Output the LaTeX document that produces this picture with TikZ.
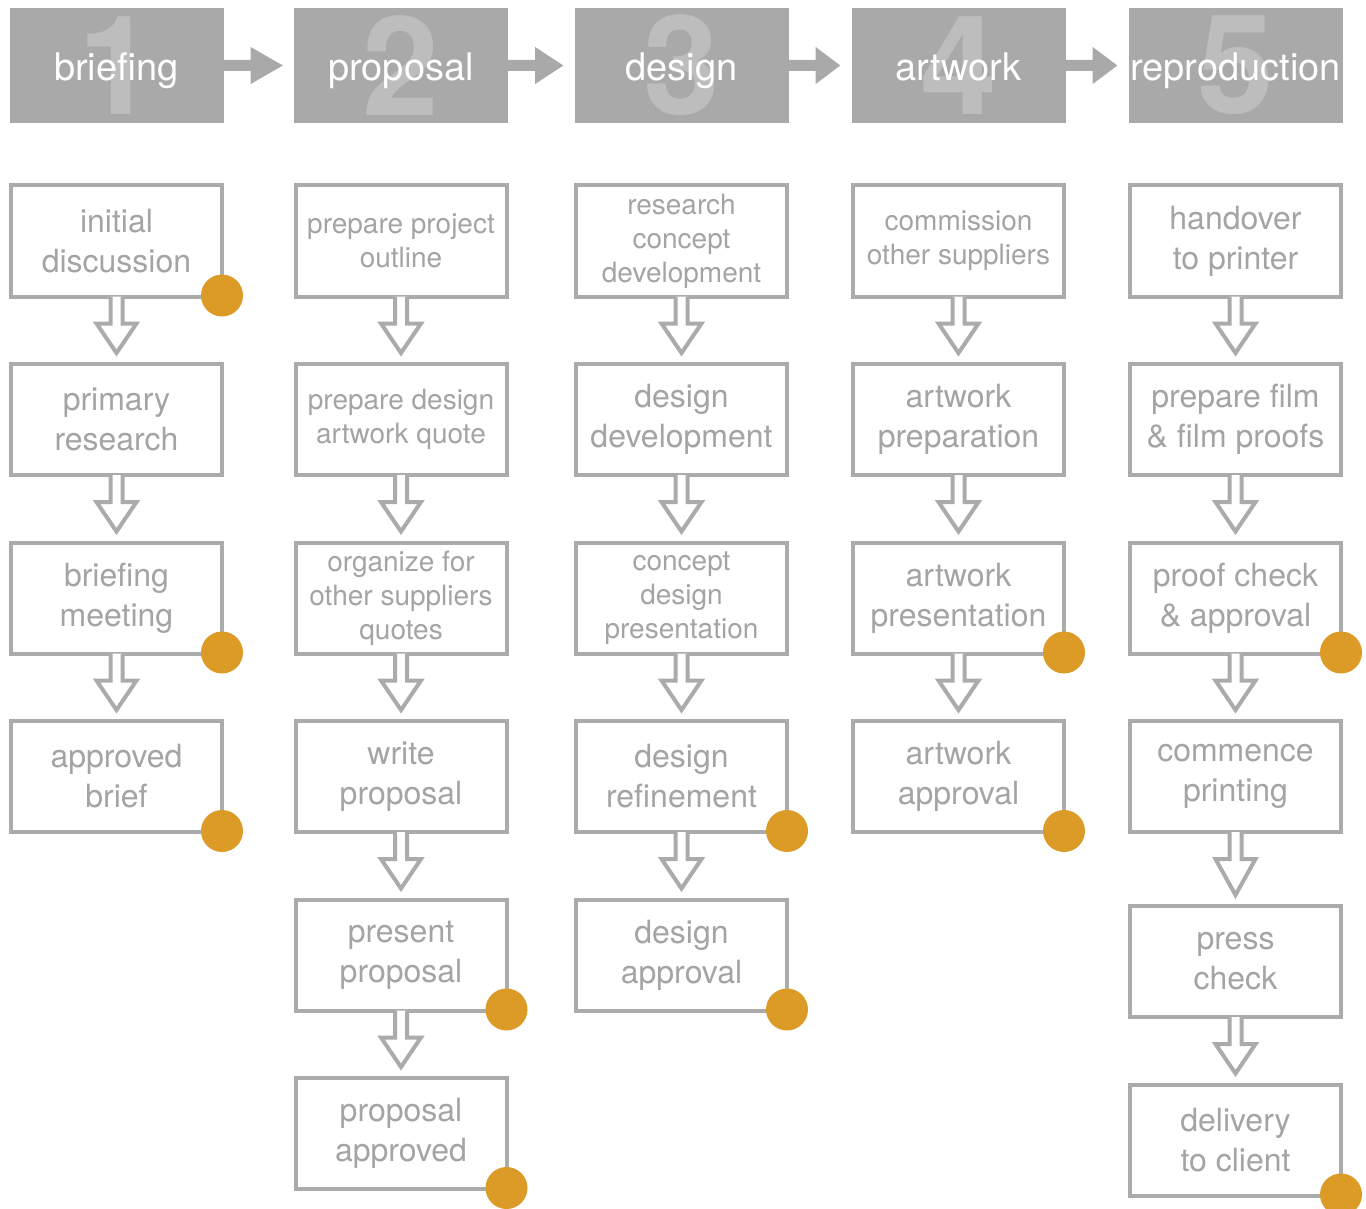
\documentclass[tikz,border=0pt]{standalone}
\usepackage{fontspec}
\setmainfont{TeX Gyre Heros}
\usepackage{tikz}
\usetikzlibrary{calc,positioning,arrows.meta}
\definecolor{stagegray}{HTML}{A9A9A9}
\definecolor{digitgray}{HTML}{BDBDBD}
\definecolor{boxgray}{HTML}{ABABAB}
\definecolor{textgray}{HTML}{A4A4A4}
\definecolor{dotorange}{HTML}{DC9A27}
\tikzstyle{stage}     = [rectangle, fill=stagegray, minimum width=214pt,
                         minimum height=115pt, inner sep=0pt]
\tikzstyle{digit}     = [text=digitgray, inner sep=0pt,
                         font=\fontsize{138}{138}\selectfont\bfseries]
\tikzstyle{stagetext} = [text=white, inner sep=0pt, anchor=base, yshift=-15pt,
                         font=\fontsize{38}{40}\selectfont]
\tikzstyle{stepbox}   = [rectangle, draw=boxgray, line width=4pt, fill=white,
                         minimum width=211pt, minimum height=111pt, inner sep=0pt,
                         align=center, text=textgray, font=\fontsize{32}{40}\selectfont]
\tikzstyle{small}     = [font=\fontsize{28}{34}\selectfont]
\tikzstyle{flow}      = [draw=boxgray, fill=white, line width=4pt, line join=miter]
\tikzstyle{dot}       = [fill=dotorange]
% hollow down arrow from one step to the next
\newcommand{\stepflow}[2]{
  \draw[flow] ($(#1.south)+(-6,-2)$) -- ++(0,27) -- ++(-14,0)
    -- ($(#2.north)+(0,-9)$) -- ($(#1.south)+(20,25)$) -- ++(-14,0) -- ++(0,-27);
}
% filled arrow between two stage headers
\newcommand{\stagearrow}[2]{
  \fill[stagegray] ($(#1.east)+(0,-5.5)$) -- ++(27,0) -- ++(0,-13)
    -- ($(#2.west)+(-11,0)$) -- ($(#1.east)+(27,18.5)$) -- ++(0,-13) -- ++(-27,0) -- cycle;
}
\newcommand{\signoff}[1]{
  \fill[dot] ($(#1.south east)+(-2,-3)$) circle (21pt);
}

\begin{document}
\begin{tikzpicture}[x=1pt, y=-1pt, node distance=178.5pt]
	\useasboundingbox (0,0) rectangle (1366,1209);

	% stage headers
	\node[stage] (brief) at (116.5,65.5) {};
	\node[digit] at (brief) {1};
	\node[stagetext] at (brief) {briefing};
	\node[stage] (prop) at (401,65.5) {};
	\node[digit] at (prop) {2};
	\node[stagetext] at (prop) {proposal};
	\node[stage] (des) at (681.5,65.5) {};
	\node[digit] at (des) {3};
	\node[stagetext] at (des) {design};
	\node[stage] (art) at (958.5,65.5) {};
	\node[digit] at (art) {4};
	\node[stagetext] at (art) {artwork};
	\node[stage] (repro) at (1235.5,65.5) {};
	\node[digit] at (repro) {5};
	\node[stagetext] at (repro) {reproduction};

	\stagearrow{brief}{prop}
	\stagearrow{prop}{des}
	\stagearrow{des}{art}
	\stagearrow{art}{repro}

	% briefing
	\node[stepbox, below of=brief, node distance=175.5pt] (brief1) {initial\\discussion};
	\node[stepbox, below of=brief1] (brief2) {primary\\research};
	\node[stepbox, below of=brief2] (brief3) {briefing\\meeting};
	\node[stepbox, below of=brief3] (brief4) {approved\\brief};

	% proposal
	\node[stepbox, small, below of=prop, node distance=175.5pt] (prop1) {prepare project\\outline};
	\node[stepbox, small, below of=prop1] (prop2) {prepare design\\artwork quote};
	\node[stepbox, small, below of=prop2] (prop3) {organize for\\other suppliers\\quotes};
	\node[stepbox, below of=prop3] (prop4) {write\\proposal};
	\node[stepbox, below of=prop4] (prop5) {present\\proposal};
	\node[stepbox, below of=prop5] (prop6) {proposal\\approved};

	% design
	\node[stepbox, small, below of=des, node distance=175.5pt] (des1) {research\\concept\\development};
	\node[stepbox, below of=des1] (des2) {design\\development};
	\node[stepbox, small, below of=des2] (des3) {concept\\design\\presentation};
	\node[stepbox, below of=des3] (des4) {design\\refinement};
	\node[stepbox, below of=des4] (des5) {design\\approval};

	% artwork
	\node[stepbox, small, below of=art, node distance=175.5pt] (art1) {commission\\other suppliers};
	\node[stepbox, below of=art1] (art2) {artwork\\preparation};
	\node[stepbox, below of=art2] (art3) {artwork\\presentation};
	\node[stepbox, below of=art3] (art4) {artwork\\approval};

	% reproduction
	\node[stepbox, below of=repro, node distance=175.5pt] (repro1) {handover\\to printer};
	\node[stepbox, below of=repro1] (repro2) {prepare film\\\& film proofs};
	\node[stepbox, below of=repro2] (repro3) {proof check\\\& approval};
	\node[stepbox, below of=repro3] (repro4) {commence\\printing};
	\node[stepbox, below of=repro4, yshift=-6.5pt] (repro5) {press\\check};
	\node[stepbox, below of=repro5] (repro6) {delivery\\to client};

	\stepflow{brief1}{brief2}
	\stepflow{brief2}{brief3}
	\stepflow{brief3}{brief4}
	\stepflow{prop1}{prop2}
	\stepflow{prop2}{prop3}
	\stepflow{prop3}{prop4}
	\stepflow{prop4}{prop5}
	\stepflow{prop5}{prop6}
	\stepflow{des1}{des2}
	\stepflow{des2}{des3}
	\stepflow{des3}{des4}
	\stepflow{des4}{des5}
	\stepflow{art1}{art2}
	\stepflow{art2}{art3}
	\stepflow{art3}{art4}
	\stepflow{repro1}{repro2}
	\stepflow{repro2}{repro3}
	\stepflow{repro3}{repro4}
	\stepflow{repro4}{repro5}
	\stepflow{repro5}{repro6}

	% sign-off points
	\signoff{brief1}
	\signoff{brief3}
	\signoff{brief4}
	\signoff{prop5}
	\signoff{prop6}
	\signoff{des4}
	\signoff{des5}
	\signoff{art3}
	\signoff{art4}
	\signoff{repro3}
	\signoff{repro6}
\end{tikzpicture}
\end{document}
